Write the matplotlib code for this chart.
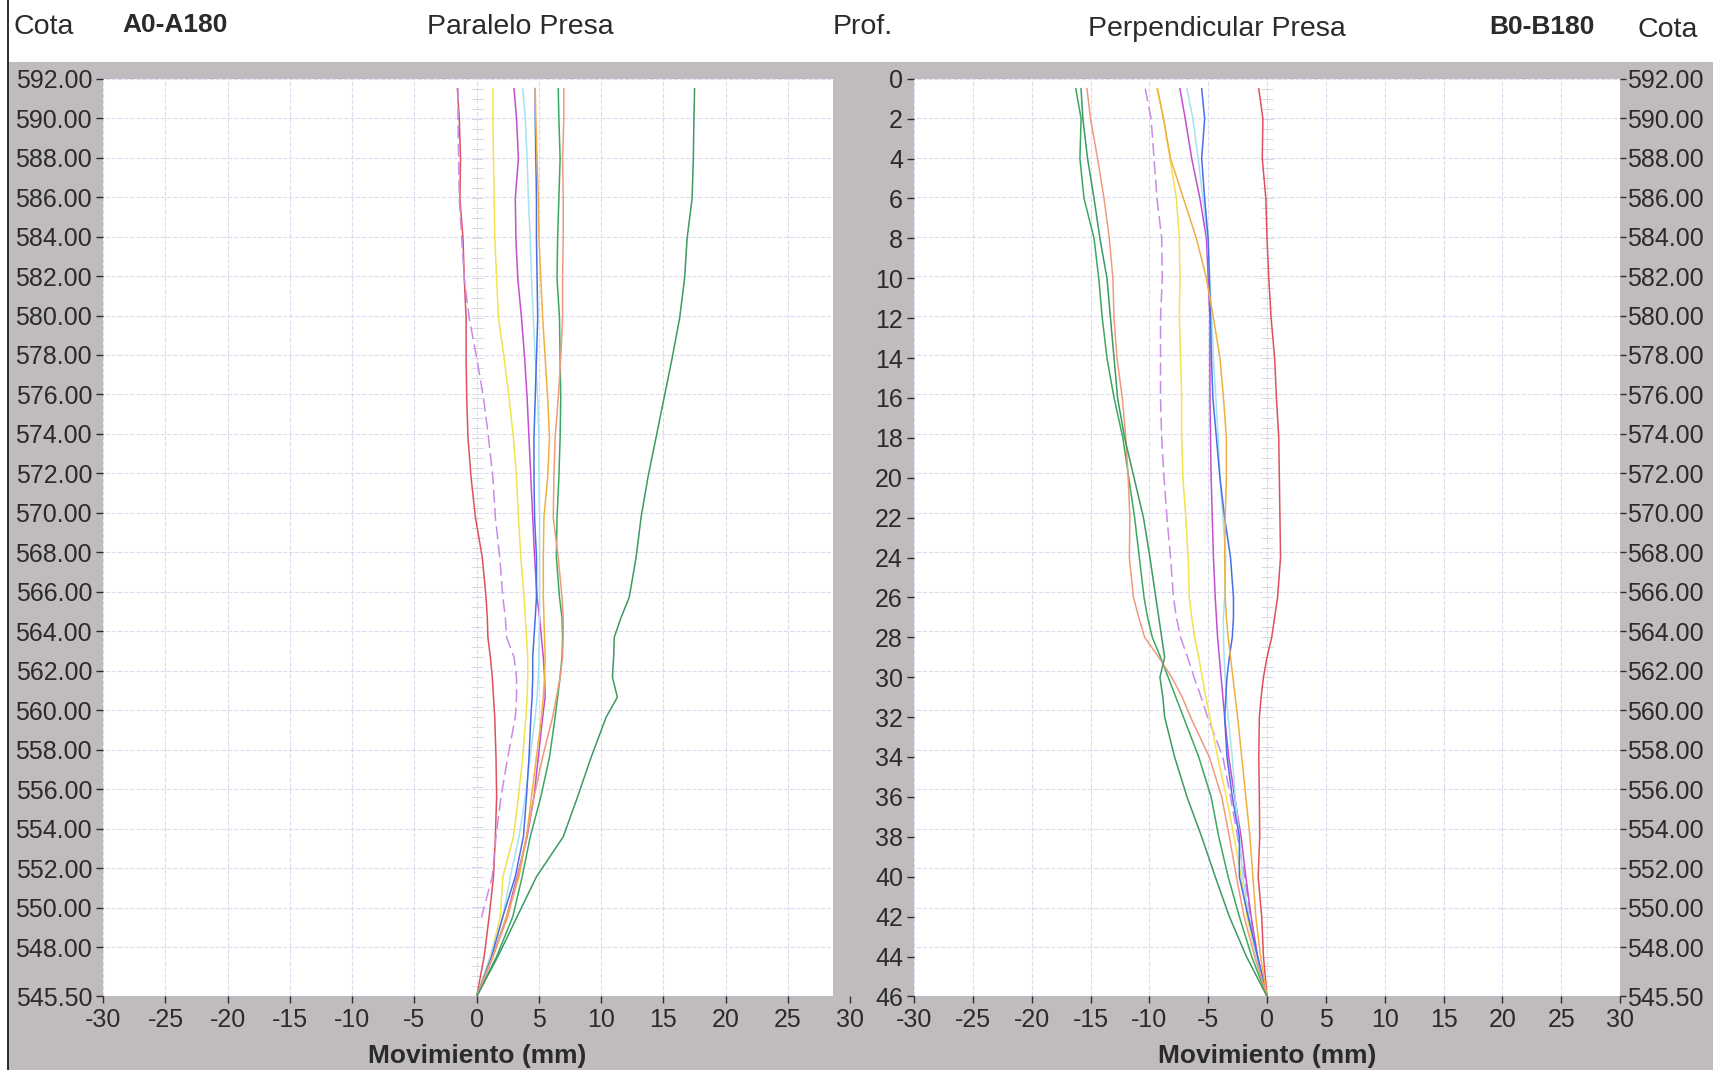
import numpy as np
import matplotlib
matplotlib.use("Agg")
import matplotlib.pyplot as plt
from matplotlib.patches import Rectangle
from matplotlib.lines import Line2D

plt.rcParams['font.family'] = ['Liberation Sans', 'DejaVu Sans']

# profundidad de lectura (m)
depth = [0.5, 2, 4, 6, 8, 10, 12, 14, 16, 18, 20, 22, 24, 26, 27, 28, 29, 30, 31, 32, 34, 36, 38, 40, 42, 44, 46]

# A0-A180, paralelo presa (mm)
a_red = [-1.55, -1.4, -1.3, -1.35, -1.1, -1.0, -0.85, -0.85, -0.8, -0.7, -0.45, -0.1, 0.45, 0.75, 0.85, 0.9, 1.1, 1.25, 1.35, 1.45, 1.55, 1.6, 1.5, 1.35, 1.0, 0.6, 0.0]
a_dash = [-1.5, -1.5, -1.45, -1.4, -1.2, -1.0, -0.6, 0.0, 0.55, 0.95, 1.3, 1.5, 1.85, 2.1, 2.3, 2.4, 3.0, 3.2, 3.2, 3.1, 2.5, 1.95, 1.55, 1.25, 0.4, np.nan, np.nan]
a_yellow = [1.3, 1.3, 1.35, 1.4, 1.45, 1.6, 1.75, 2.2, 2.6, 2.95, 3.2, 3.35, 3.55, 3.8, 3.9, 4.0, 4.1, 4.1, 4.05, 3.95, 3.7, 3.35, 2.95, 2.1, 1.9, 1.1, 0.0]
a_magenta = [3.0, 3.2, 3.35, 3.1, 3.15, 3.3, 3.6, 3.85, 4.05, 4.2, 4.35, 4.5, 4.65, 4.85, 5.05, 5.2, 5.35, 5.45, 5.5, 5.3, 4.95, 4.6, 4.05, 3.25, 2.4, 1.3, 0.0]
a_cyan = [3.7, 3.9, 4.05, 4.15, 4.3, 4.4, 4.55, 4.7, 4.9, 5.0, 5.0, 5.05, 5.05, 5.05, 5.05, 5.0, 5.0, 4.95, 4.85, 4.7, 4.3, 3.9, 3.4, 2.7, 2.1, 1.1, 0.0]
a_blue = [4.7, 4.7, 4.75, 4.8, 4.8, 4.85, 4.9, 4.8, 4.7, 4.6, 4.6, 4.65, 4.8, 4.8, 4.7, 4.6, 4.5, 4.5, 4.45, 4.35, 4.2, 4.0, 3.75, 3.1, 2.1, 1.2, 0.0]
a_orange = [4.7, 4.75, 4.85, 4.95, 5.0, 5.15, 5.3, 5.5, 5.7, 5.85, 5.7, 5.4, 5.35, 5.35, 5.4, 5.45, 5.5, 5.45, 5.35, 5.2, 4.8, 4.4, 4.0, 3.4, 2.4, 1.3, 0.0]
a_green1 = [6.55, 6.6, 6.7, 6.6, 6.5, 6.45, 6.65, 6.7, 6.75, 6.7, 6.6, 6.45, 6.4, 6.65, 6.85, 6.9, 6.85, 6.7, 6.5, 6.3, 5.85, 5.15, 4.3, 3.65, 2.9, 1.6, 0.0]
a_salmon = [7.0, 7.0, 6.9, 6.95, 6.95, 6.9, 6.9, 6.75, 6.55, 6.3, 6.2, 6.15, 6.55, 6.85, 6.95, 6.95, 6.9, 6.7, 6.4, 6.1, 5.3, 4.6, 4.0, 3.3, 2.5, 1.3, 0.0]
a_green2 = [17.5, 17.45, 17.4, 17.3, 16.9, 16.7, 16.3, 15.7, 15.05, 14.4, 13.75, 13.2, 12.8, 12.25, 11.6, 11.05, 11.0, 10.9, 11.3, 10.4, 9.2, 8.1, 6.95, 4.8, 3.25, 1.7, 0.0]

# B0-B180, perpendicular presa (mm)
b_red = [-0.7, -0.35, -0.4, -0.1, 0.0, 0.15, 0.35, 0.65, 0.8, 1.0, 1.05, 1.1, 1.15, 0.9, 0.65, 0.4, 0.0, -0.3, -0.5, -0.65, -0.7, -0.65, -0.62, -0.75, -0.45, -0.3, 0.0]
b_dash = [-10.35, -9.85, -9.6, -9.35, -8.95, -8.9, -9.05, -9.05, -9.05, -8.95, -8.75, -8.5, -8.2, -7.95, -7.7, -7.35, -6.75, -6.2, -5.6, -5.05, -3.75, -3.1, -2.5, -1.9, -1.4, -0.8, 0.0]
b_yellow = [-9.35, -8.8, -8.25, -7.7, -7.45, -7.4, -7.45, -7.35, -7.25, -7.25, -7.15, -6.9, -6.7, -6.6, -6.4, -6.15, -5.8, -5.5, -5.2, -4.85, -4.2, -3.45, -2.8, -2.2, -1.7, -0.95, 0.0]
b_magenta = [-7.4, -6.95, -6.4, -5.7, -5.15, -5.0, -4.85, -4.85, -4.85, -4.8, -4.75, -4.65, -4.55, -4.4, -4.3, -4.2, -4.05, -3.9, -3.75, -3.6, -3.25, -2.75, -2.2, -1.8, -1.35, -0.8, 0.0]
b_cyan = [-6.8, -6.3, -5.85, -5.45, -5.05, -4.85, -4.7, -4.55, -4.35, -4.15, -4.0, -3.75, -3.5, -3.6, -3.7, -3.7, -3.65, -3.55, -3.45, -3.3, -2.95, -2.7, -2.35, -2.05, -1.55, -0.95, 0.0]
b_blue = [-5.55, -5.3, -5.55, -5.3, -5.0, -4.9, -4.8, -4.72, -4.6, -4.3, -4.0, -3.6, -3.1, -2.85, -2.85, -2.95, -3.2, -3.4, -3.5, -3.6, -3.4, -2.95, -2.35, -2.35, -1.6, -0.8, 0.0]
b_orange = [-9.3, -8.8, -8.2, -7.1, -6.0, -5.15, -4.55, -4.0, -3.7, -3.45, -3.45, -3.55, -3.6, -3.55, -3.45, -3.3, -3.1, -2.9, -2.7, -2.5, -2.15, -1.8, -1.45, -1.2, -0.95, -0.55, 0.0]
b_green1 = [-16.25, -15.8, -15.9, -15.55, -14.7, -14.3, -14.0, -13.6, -13.0, -12.25, -11.75, -11.25, -10.85, -10.45, -10.15, -9.75, -9.05, -8.4, -7.75, -7.1, -5.8, -4.75, -4.1, -3.3, -2.35, -1.3, 0.0]
b_salmon = [-15.3, -15.0, -14.4, -13.85, -13.4, -13.1, -13.0, -12.75, -12.3, -12.0, -11.8, -11.65, -11.7, -11.35, -10.9, -10.4, -9.2, -8.1, -7.2, -6.5, -4.9, -3.85, -3.2, -2.6, -1.95, -1.05, 0.0]
b_green2 = [-15.8, -15.65, -15.25, -14.7, -14.2, -13.6, -13.3, -13.0, -12.7, -12.1, -11.3, -10.5, -9.95, -9.45, -9.2, -8.95, -8.7, -9.1, -8.85, -8.7, -7.85, -6.8, -5.55, -4.4, -3.2, -1.75, 0.0]

series_a = [a_red, a_dash, a_yellow, a_magenta, a_cyan, a_blue, a_orange, a_green1, a_salmon, a_green2]
series_b = [b_red, b_dash, b_yellow, b_magenta, b_cyan, b_blue, b_orange, b_green1, b_salmon, b_green2]
colors = ['#e0505c', '#c98ae6', '#f2e24e', '#c34fd0', '#a6e2f2', '#4a6ee6',
          '#f0b040', '#3aa860', '#f09a7c', '#3c9a62']
styles = ['-', (0, (8.5, 3.5)), '-', '-', '-', '-', '-', '-', '-', '-']

cota_ticks = [592, 590, 588, 586, 584, 582, 580, 578, 576, 574, 572, 570, 568, 566,
              564, 562, 560, 558, 556, 554, 552, 550, 548, 545.5]
depth_ticks = list(range(0, 47, 2))
mov_ticks = [-30, -25, -20, -15, -10, -5, 0, 5, 10, 15, 20, 25, 30]
reading_marks = np.arange(0.5, 46, 0.5)

BG = '#bfbbbf'
GRID = '#dcdcf0'
TXT = '#2b2b2b'
W, H = 1713, 1070

fig = plt.figure(figsize=(W / 100, H / 100), dpi=100)
fig.patch.set_facecolor('white')
fig.add_artist(Rectangle((8 / W, 0), 1, 1 - 62 / H, transform=fig.transFigure,
                         facecolor=BG, edgecolor='none', zorder=-10))
fig.add_artist(Line2D([8 / W, 8 / W], [0, 1], transform=fig.transFigure,
                      color='#1e1e1e', lw=1.3))

bottom = 1 - 996.4 / H
height = (996.4 - 78.7) / H
ax_l = fig.add_axes([103.2 / W, bottom, 747 / W, height])
ax_r = fig.add_axes([914 / W, bottom, 706 / W, height])


def base_panel(ax, white_lo, white_hi):
    ax.set_facecolor('none')
    for s in ax.spines.values():
        s.set_visible(False)
    ax.set_xlim(-30, 30)
    ax.set_ylim(545.5, 592)
    ax.add_patch(Rectangle((white_lo, 0), white_hi - white_lo, 1,
                           transform=ax.get_xaxis_transform(),
                           facecolor='white', edgecolor='none', zorder=0))
    xt = [v for v in mov_ticks if white_lo <= v <= white_hi]
    ax.vlines(xt, 0, 1, transform=ax.get_xaxis_transform(), colors=GRID,
              lw=0.8, linestyles=(0, (4, 1.5)), zorder=1)
    ax.hlines(cota_ticks, white_lo, white_hi, colors=GRID, lw=0.8,
              linestyles=(0, (4, 1.5)), zorder=1)
    ax.set_xticks(mov_ticks)
    ax.set_xticklabels([str(v) for v in mov_ticks])
    ax.set_yticks(cota_ticks)
    ax.set_yticklabels(['%.2f' % v for v in cota_ticks])
    ax.tick_params(labelsize=18, colors=TXT, length=5, width=1, pad=3)
    ax.set_xlabel('Movimiento (mm)', fontsize=19, fontweight='bold',
                  color=TXT, labelpad=9)


base_panel(ax_l, -30.35, 28.6)
base_panel(ax_r, -30.35, 30.2)

# curvas en profundidad sobre ejes gemelos
tw_l = ax_l.twinx()
tw_r = ax_r.twinx()
for tw in (tw_l, tw_r):
    tw.set_ylim(46, 0)
    for s in tw.spines.values():
        s.set_visible(False)
tw_l.set_yticks([])
ax_l.yaxis.tick_left()

# cota a la derecha, profundidad a la izquierda
ax_r.yaxis.tick_right()
ax_r.tick_params(axis='y', labelsize=18, colors=TXT, length=4, width=1, pad=1)
tw_r.yaxis.tick_left()
tw_r.set_yticks(depth_ticks)
tw_r.set_yticklabels([str(v) for v in depth_ticks])
tw_r.tick_params(axis='y', labelsize=18, colors=TXT, length=5, width=1, pad=3)

for tw, series in ((tw_l, series_a), (tw_r, series_b)):
    tw.plot(np.zeros(len(reading_marks)), reading_marks, ls='none', marker='_',
            ms=9, mew=0.6, color='#d2d2dc', zorder=1)
    for vals, c, st in zip(series, colors, styles):
        tw.plot(vals, depth, color=c, ls=st, lw=1.1, zorder=2)

# cabecera
hdr = dict(fontsize=20.5, color=TXT, va='center', ha='center')
fig.text(43.7 / W, 1 - 27 / H, 'Cota', **hdr)
fig.text(174.8 / W, 1 - 25 / H, 'A0-A180', fontsize=19, fontweight='bold',
         color=TXT, va='center', ha='center')
fig.text(520 / W, 1 - 27 / H, 'Paralelo Presa', **hdr)
fig.text(863 / W, 1 - 27 / H, 'Prof.', **hdr)
fig.text(1217 / W, 1 - 29 / H, 'Perpendicular Presa', **hdr)
fig.text(1541.5 / W, 1 - 27 / H, 'B0-B180', fontsize=19, fontweight='bold',
         color=TXT, va='center', ha='center')
fig.text(1668 / W, 1 - 30 / H, 'Cota', **hdr)

fig.savefig('out.png', dpi=100)
